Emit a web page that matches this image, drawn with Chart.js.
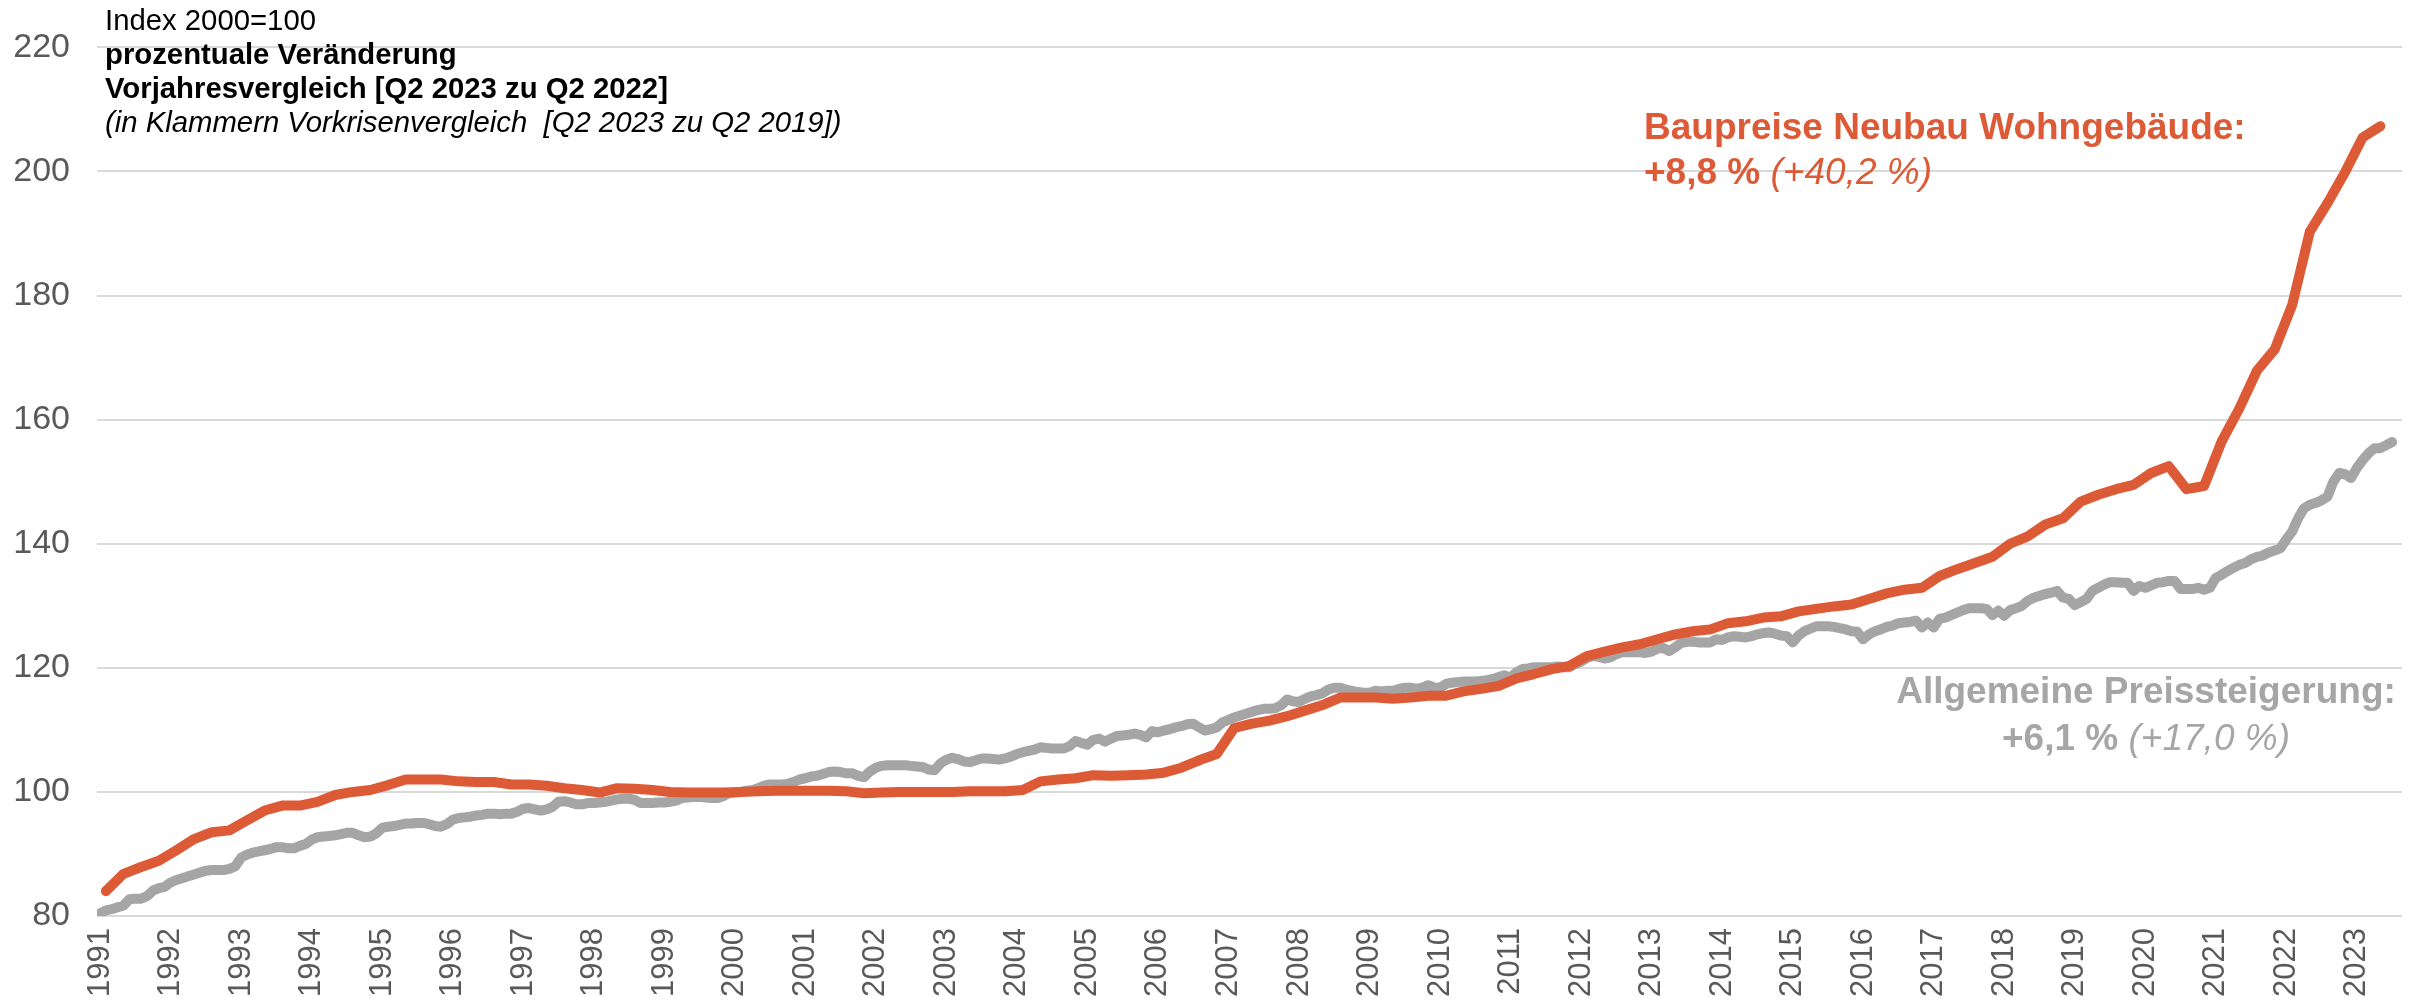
<!DOCTYPE html>
<html>
<head>
<meta charset="utf-8">
<script src="https://cdn.jsdelivr.net/npm/chart.js@4.4.0/dist/chart.umd.min.js"></script>
<style>
  html, body { margin: 0; padding: 0; background: #ffffff; }
  #wrap { position: relative; width: 2425px; height: 1007px; font-family: "Liberation Sans", Arial, sans-serif; }
  #chart { position: absolute; left: 0; top: 0; }
  .txt { position: absolute; white-space: pre; }
  #hdr { left: 105px; top: 3px; font-size: 29.3px; line-height: 34px; color: #000000; }
  #bau { left: 1644px; top: 104px; font-size: 37px; line-height: 45px; color: #DD5A36; font-weight: bold; }
  #vpi { left: 1896px; width: 500px; top: 667px; font-size: 37px; line-height: 47px; color: #A6A6A6; font-weight: bold; text-align: center; }
  .it { font-style: italic; font-weight: normal; }
  .b { font-weight: bold; }
</style>
</head>
<body>
<div id="wrap">
  <canvas id="chart" width="2425" height="1007"></canvas>
  <div id="hdr" class="txt">Index 2000=100
<span class="b">prozentuale Veränderung</span>
<span class="b">Vorjahresvergleich [Q2 2023 zu Q2 2022]</span>
<span class="it">(in Klammern Vorkrisenvergleich  [Q2 2023 zu Q2 2019])</span></div>
  <div id="bau" class="txt">Baupreise Neubau Wohngebäude:
+8,8 % <span class="it">(+40,2 %)</span></div>
  <div id="vpi" class="txt">Allgemeine Preissteigerung:
+6,1 % <span class="it">(+17,0 %)</span></div>
</div>
<script>
// ---- Data ----
const startYear = 1991;
const yearLabels = [1991, 1992, 1993, 1994, 1995, 1996, 1997, 1998, 1999, 2000,
  2001, 2002, 2003, 2004, 2005, 2006, 2007, 2008, 2009, 2010, 2011, 2012,
  2013, 2014, 2015, 2016, 2017, 2018, 2019, 2020, 2021, 2022, 2023];
const yTickValues = [80, 100, 120, 140, 160, 180, 200, 220];

// Baupreise Neubau Wohngebäude, quarterly, 1991 Q1 .. 2023 Q2 (Index 2000=100)
const baupreiseQuarterly = [
  84.0, 86.8, 87.9, 88.9,
  90.6, 92.4, 93.5, 93.8,
  95.4, 97.0, 97.8, 97.8,
  98.4, 99.5, 100.0, 100.3,
  101.1, 102.0, 102.0, 102.0,
  101.7, 101.6, 101.6, 101.2,
  101.2, 101.0, 100.6, 100.3,
  99.9, 100.6, 100.5, 100.3,
  100.0, 99.9, 99.9, 99.9,
  100.0, 100.1, 100.2, 100.2,
  100.2, 100.2, 100.1, 99.8,
  99.9, 100.0, 100.0, 100.0,
  100.0, 100.1, 100.1, 100.1,
  100.3, 101.7, 102.0, 102.2,
  102.7, 102.6, 102.7, 102.8,
  103.1, 103.9, 105.1, 106.1,
  110.3, 111.0, 111.5, 112.2,
  113.1, 114.0, 115.2, 115.2,
  115.2, 115.0, 115.2, 115.5,
  115.5, 116.2, 116.6, 117.1,
  118.3, 119.0, 119.8, 120.3,
  121.9, 122.6, 123.3, 123.8,
  124.6, 125.4, 125.9, 126.2,
  127.2, 127.5, 128.1, 128.3,
  129.1, 129.5, 129.9, 130.2,
  131.1, 132.0, 132.6, 132.9,
  134.8, 135.9, 136.9, 137.9,
  140.0, 141.2, 143.1, 144.1,
  146.8, 147.9, 148.8, 149.5,
  151.4, 152.5, 148.8, 149.3,
  156.5, 161.8, 167.9, 171.3,
  178.5, 190.3, 194.9, 199.9,
  205.5, 207.3
];

// Allgemeine Preissteigerung (Verbraucherpreise), monthly, Jan 1991 .. Jul 2023 (Index 2000=100)
const verbraucherpreiseMonthly = [
  80.4, 80.9, 81.1, 81.4, 81.7, 82.7, 82.8, 82.8, 83.2, 84.1, 84.5, 84.7,
  85.4, 85.8, 86.1, 86.4, 86.7, 87.0, 87.3, 87.4, 87.4, 87.4, 87.6, 88.0,
  89.4, 89.9, 90.2, 90.4, 90.6, 90.8, 91.1, 91.1, 90.9, 90.9, 91.3, 91.6,
  92.3, 92.7, 92.8, 92.9, 93.0, 93.2, 93.4, 93.4, 93.0, 92.7, 92.8, 93.3,
  94.2, 94.4, 94.5, 94.7, 94.9, 94.9, 95.0, 95.0, 94.8, 94.5, 94.4, 94.8,
  95.5, 95.8, 95.9, 96.0, 96.2, 96.3, 96.5, 96.5, 96.4, 96.5, 96.5, 96.8,
  97.3, 97.4, 97.2, 97.0, 97.2, 97.6, 98.4, 98.5, 98.3, 98.0, 98.0, 98.2,
  98.2, 98.3, 98.4, 98.6, 98.8, 98.9, 98.9, 98.7, 98.2, 98.2, 98.2, 98.3,
  98.3, 98.4, 98.6, 99.0, 99.1, 99.2, 99.2, 99.1, 99.0, 99.0, 99.3, 99.8,
  99.9, 100.0, 100.2, 100.3, 100.6, 101.0, 101.2, 101.2, 101.2, 101.3, 101.6, 102.0,
  102.2, 102.5, 102.6, 102.9, 103.2, 103.3, 103.2, 103.0, 103.0, 102.6, 102.4, 103.3,
  103.9, 104.2, 104.3, 104.3, 104.3, 104.3, 104.2, 104.1, 104.0, 103.6, 103.5, 104.6,
  105.2, 105.5, 105.3, 104.9, 104.8, 105.1, 105.4, 105.4, 105.3, 105.2, 105.4, 105.7,
  106.1, 106.4, 106.6, 106.8, 107.2, 107.1, 107.0, 107.0, 107.0, 107.4, 108.2, 107.9,
  107.6, 108.4, 108.6, 108.1, 108.6, 109.0, 109.1, 109.2, 109.4, 109.2, 108.8, 109.8,
  109.6, 109.9, 110.1, 110.4, 110.6, 110.9, 111.0, 110.4, 109.9, 110.1, 110.4, 111.2,
  111.6, 112.0, 112.3, 112.6, 112.9, 113.2, 113.4, 113.4, 113.5, 114.0, 114.9, 114.6,
  114.5, 115.0, 115.4, 115.6, 115.9, 116.5, 116.8, 116.8, 116.5, 116.3, 116.1, 116.0,
  116.0, 116.3, 116.2, 116.3, 116.3, 116.6, 116.8, 116.8, 116.6, 116.8, 117.2, 116.8,
  116.8, 117.4, 117.6, 117.7, 117.8, 117.8, 117.8, 117.9, 118.0, 118.2, 118.5, 118.8,
  118.4, 119.3, 119.8, 119.9, 120.1, 120.1, 120.1, 120.1, 120.2, 120.1, 120.1, 120.6,
  121.0, 121.6, 121.9, 121.8, 121.5, 121.7, 122.2, 122.5, 122.5, 122.5, 122.5, 122.4,
  122.6, 123.1, 123.2, 122.7, 123.3, 124.0, 124.2, 124.2, 124.1, 124.1, 124.1, 124.6,
  124.5, 124.9, 125.1, 125.0, 124.9, 125.1, 125.4, 125.6, 125.7, 125.5, 125.2, 125.1,
  124.1, 125.2, 125.9, 126.3, 126.7, 126.7, 126.7, 126.6, 126.4, 126.2, 125.9, 125.8,
  124.6, 125.4, 125.9, 126.2, 126.6, 126.8, 127.2, 127.3, 127.4, 127.6, 126.5, 127.3,
  126.5, 127.9, 128.1, 128.5, 128.9, 129.3, 129.6, 129.6, 129.6, 129.5, 128.5, 129.2,
  128.4, 129.3, 129.6, 130.0, 130.8, 131.3, 131.6, 131.9, 132.1, 132.4, 131.3, 131.1,
  130.1, 130.6, 131.1, 132.4, 132.9, 133.4, 133.8, 133.8, 133.7, 133.7, 132.4, 133.2,
  132.9, 133.3, 133.7, 133.8, 134.0, 134.0, 132.7, 132.7, 132.7, 132.9, 132.6, 132.9,
  134.5, 135.0, 135.6, 136.1, 136.6, 136.9, 137.5, 137.9, 138.1, 138.6, 138.9, 139.3,
  140.7, 142.0, 144.1, 145.7, 146.3, 146.6, 147.0, 147.6, 150.0, 151.4, 151.2, 150.6,
  152.2, 153.5, 154.6, 155.4, 155.4, 155.9, 156.4
];

// ---- Build datasets: time on a continuous year axis ----
// quarterly values sit at the middle month of each quarter, monthly values at each month
const bauPoints = baupreiseQuarterly.map((v, i) => ({ x: startYear + (3 * i + 1) / 12, y: v }));
const vpiPoints = verbraucherpreiseMonthly.map((v, i) => ({ x: startYear + i / 12, y: v }));

const fontFamily = '"Liberation Sans", Arial, sans-serif';

new Chart(document.getElementById('chart'), {
  type: 'line',
  data: {
    datasets: [
      {
        label: 'Baupreise Neubau Wohngebäude',
        data: bauPoints,
        borderColor: '#DD5A36',
        borderWidth: 10,
        pointRadius: 0,
        tension: 0,
        borderJoinStyle: 'round',
        borderCapStyle: 'round',
        fill: false
      },
      {
        label: 'Allgemeine Preissteigerung',
        data: vpiPoints,
        borderColor: '#A5A5A5',
        borderWidth: 10,
        pointRadius: 0,
        tension: 0,
        borderJoinStyle: 'round',
        borderCapStyle: 'round',
        fill: false
      }
    ]
  },
  options: {
    responsive: false,
    animation: false,
    events: [],
    devicePixelRatio: 1,
    layout: { padding: { left: 0, right: 23, top: 45, bottom: 0 } },
    plugins: { legend: { display: false }, tooltip: { enabled: false }, title: { display: false } },
    scales: {
      x: {
        type: 'linear',
        min: 1990.957,
        max: 2023.64,
        afterBuildTicks: (scale) => { scale.ticks = yearLabels.map(v => ({ value: v })); },
        afterFit: (scale) => { scale.height = 91; },
        grid: { display: false, drawTicks: false },
        border: { display: false },
        ticks: {
          autoSkip: false,
          minRotation: 90,
          maxRotation: 90,
          padding: 12,
          color: '#595959',
          font: { family: fontFamily, size: 31 },
          callback: (v) => String(v)
        }
      },
      y: {
        type: 'linear',
        min: 80,
        max: 220,
        afterBuildTicks: (scale) => { scale.ticks = yTickValues.map(v => ({ value: v })); },
        afterFit: (scale) => { scale.width = 97; },
        grid: { color: '#D9D9D9', lineWidth: 2, drawTicks: false },
        border: { display: false },
        ticks: {
          padding: 27,
          color: '#595959',
          font: { family: fontFamily, size: 34 },
          callback: (v) => String(v)
        }
      }
    }
  }
});
</script>
</body>
</html>
